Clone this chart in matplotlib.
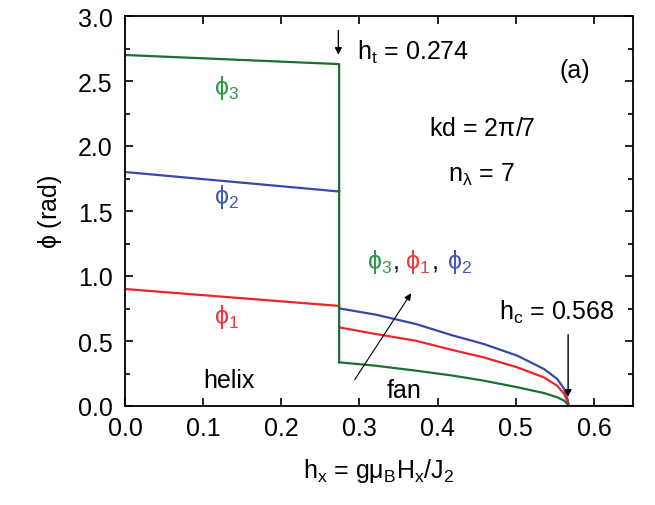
import matplotlib
import matplotlib.pyplot as plt
import numpy as np
from matplotlib.ticker import MultipleLocator

matplotlib.use("Agg")

plt.rcParams["font.family"] = ["Liberation Sans", "DejaVu Sans"]
plt.rcParams["mathtext.fontset"] = "custom"
plt.rcParams["mathtext.rm"] = "Liberation Sans"
plt.rcParams["mathtext.it"] = "Liberation Sans"
plt.rcParams["mathtext.sf"] = "Liberation Sans"

# helix phase (0 .. h_t)
h_helix = [0.0, 0.274]
phi3_helix = [2.70, 2.63]
phi2_helix = [1.80, 1.65]
phi1_helix = [0.90, 0.77]

# fan phase (h_t .. h_c)
h_fan = [0.274, 0.3205, 0.372, 0.418, 0.459, 0.502, 0.536, 0.553, 0.562, 0.566, 0.568]
phi2_fan = [0.751, 0.703, 0.631, 0.545, 0.477, 0.387, 0.285, 0.208, 0.131, 0.054, 0.0]
phi1_fan = [0.605, 0.554, 0.502, 0.432, 0.374, 0.297, 0.220, 0.156, 0.092, 0.038, 0.0]
phi3_fan = [0.336, 0.310, 0.272, 0.235, 0.195, 0.144, 0.100, 0.067, 0.041, 0.015, 0.0]

# ferro phase (h_c .. end)
h_ferro = [0.568, 0.65]
zero_ferro = [0.0, 0.0]

green = "#1d6e35"
green_txt = "#2c9a48"
red = "#e8262b"
red_txt = "#f0393d"
blue = "#3549a8"
blue_txt = "#4658b5"

fig = plt.figure(figsize=(6.55, 5.06), dpi=100)
ax = fig.add_axes([125 / 655, 1 - 407 / 506, (633 - 125) / 655, (407 - 17) / 506])

lw = 1.6
ax.plot(h_helix, phi1_helix, color=red, lw=lw)
ax.plot(h_helix, phi2_helix, color=blue, lw=lw)
ax.plot(h_fan, phi2_fan, color=blue, lw=lw)
ax.plot(h_fan, phi1_fan, color=red, lw=lw)
# green: helix, vertical jump at h_t, fan, ferro
ax.plot(h_helix + h_fan[:1], phi3_helix + phi3_fan[:1], color=green, lw=lw)
ax.plot(h_fan, phi3_fan, color=green, lw=lw)
ax.plot(h_ferro, zero_ferro, color=green, lw=lw)

ax.set_xlim(0, 0.65)
ax.set_ylim(0, 3.0)
ax.xaxis.set_major_locator(MultipleLocator(0.1))
ax.yaxis.set_major_locator(MultipleLocator(0.5))
ax.yaxis.set_minor_locator(MultipleLocator(0.25))
ax.tick_params(which="both", direction="in", top=True, right=True, labelsize=18, width=1.2)
ax.tick_params(which="major", length=6)
ax.tick_params(which="minor", length=3.5)
ax.tick_params(axis="x", pad=7)
ax.tick_params(axis="y", pad=9)
for s in ax.spines.values():
    s.set_linewidth(1.3)

ax.set_xlabel(r"h$_\mathrm{x}$ = gμ$_\mathrm{B}$H$_\mathrm{x}$/J$_2$", fontsize=18, labelpad=12)
ax.set_ylabel(r"$\phi$ (rad)", fontsize=18, labelpad=10)

fs = 18
ax.text(0.114, 2.40, r"$\phi_3$", color=green_txt, fontsize=fs)
ax.text(0.114, 1.56, r"$\phi_2$", color=blue_txt, fontsize=fs)
ax.text(0.114, 0.64, r"$\phi_1$", color=red_txt, fontsize=fs)

ax.text(0.297, 2.67, r"h$_\mathrm{t}$ = 0.274", fontsize=fs)
ax.annotate("", xy=(0.273, 2.68), xytext=(0.273, 2.91),
            arrowprops=dict(arrowstyle="-|>", color="black", lw=1, mutation_scale=10))
ax.text(0.575, 2.53, "(a)", fontsize=fs, ha="center")
ax.text(0.456, 2.085, r"kd = 2$\pi$/7", fontsize=fs, ha="center")
ax.text(0.456, 1.73, r"n$_\lambda$ = 7", fontsize=fs, ha="center")

yl = 1.06
ax.text(0.3095, yl, r"$\phi_3$", color=green_txt, fontsize=fs)
ax.text(0.342, yl, ",", fontsize=fs)
ax.text(0.358, yl, r"$\phi_1$", color=red_txt, fontsize=fs)
ax.text(0.392, yl, ",", fontsize=fs)
ax.text(0.4115, yl, r"$\phi_2$", color=blue_txt, fontsize=fs)
ax.annotate("", xy=(0.368, 0.885), xytext=(0.292, 0.185),
            arrowprops=dict(arrowstyle="-|>", color="black", lw=0.8, mutation_scale=10))

ax.text(0.133, 0.146, "helix", fontsize=fs, ha="center")
ax.text(0.357, 0.07, "fan", fontsize=fs, ha="center")

ax.text(0.478, 0.67, r"h$_\mathrm{c}$ = 0.568", fontsize=fs)
ax.annotate("", xy=(0.567, 0.05), xytext=(0.567, 0.57),
            arrowprops=dict(arrowstyle="-|>", color="black", lw=1, mutation_scale=10))

fig.savefig("out.png", dpi=100)
